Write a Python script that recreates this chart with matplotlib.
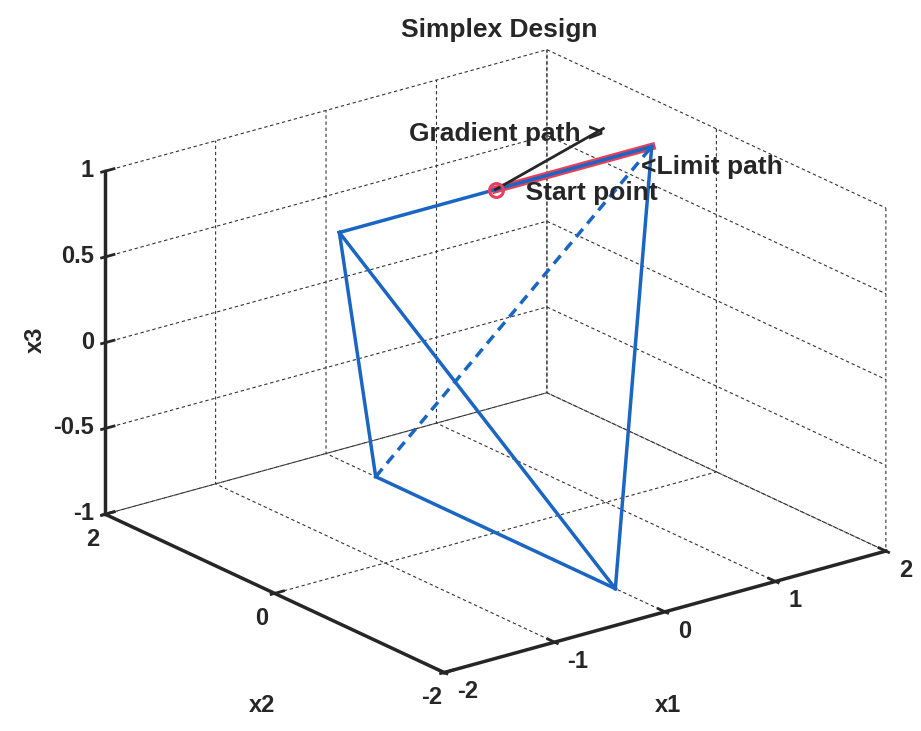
import matplotlib
matplotlib.use("Agg")
import matplotlib.pyplot as plt

plt.rcParams['font.family'] = ['Liberation Sans', 'DejaVu Sans']
plt.rcParams['font.weight'] = 'bold'
plt.rcParams['axes.unicode_minus'] = False
plt.rcParams['grid.color'] = '#333333'
plt.rcParams['grid.linewidth'] = 0.8
plt.rcParams['grid.linestyle'] = (0, (3, 2.5))

# simplex vertices in coded units
vx1 = [-1.414, 1.414, 0.0, 0.0]
vx2 = [0.0, 0.0, 1.414, -1.414]
vx3 = [1.0, 1.0, -1.0, -1.0]
solid_edges = [(0, 1), (0, 2), (0, 3), (2, 3), (3, 1)]
hidden_edges = [(2, 1)]

start_pt = [0.0, 0.0, 1.0]
limit_end = [1.414, 0.0, 1.0]
grad_end = [1.36, 0.5, 1.0]

x1_ticks = [-2, -1, 0, 1, 2]
x2_ticks = [-2, 0, 2]
x3_ticks = [-1, -0.5, 0, 0.5, 1]
x3_labels = ['-1', '-0.5', '0', '0.5', '1']

BLUE = '#1a66c2'
RED = '#e8405a'
INK = '#262626'

fig = plt.figure(figsize=(9.21, 7.31), dpi=100)
ax = fig.add_axes([0.1303, -0.0075, 0.794, 1.0], projection='3d', proj_type='ortho')
ax.view_init(elev=21, azim=-127.5)
ax.set_box_aspect((1, 1, 0.66), zoom=1.154)

ax.set_xlim(-2, 2)
ax.set_ylim(-2, 2)
ax.set_zlim(-1, 1)
ax.set_xticks(x1_ticks)
ax.set_yticks(x2_ticks)
ax.set_zticks(x3_ticks)
ax.set_zticklabels(x3_labels)

for axis in (ax.xaxis, ax.yaxis, ax.zaxis):
    axis.set_pane_color((1, 1, 1, 0))
    axis.pane.set_edgecolor('none')
    axis.line.set_linewidth(2.5)
    axis.line.set_color(INK)
    axis.offsetText.set_visible(False)
    axis.label.set_visible(False)
    axis._axinfo['tick']['inward_factor'] = 0.1
    axis._axinfo['tick']['outward_factor'] = 0.25
    axis._axinfo['tick']['linewidth'][True] = 2.0
    axis._axinfo['tick']['color'] = INK
ax.tick_params(labelsize=17, colors=INK)
ax.tick_params(axis='x', pad=2.5)
ax.tick_params(axis='y', pad=0)
ax.tick_params(axis='z', pad=-4)
for lbl in ax.get_xticklabels():
    lbl.set_ha('left')
    lbl.set_va('center')
for lbl in ax.get_zticklabels():
    lbl.set_ha('right')
    lbl.set_va('center')

# axis titles placed below / beside the box
fig.text(668 / 921, 1 - 705 / 731, 'x1', fontsize=17, color=INK,
         ha='center', va='center')
fig.text(262 / 921, 1 - 705 / 731, 'x2', fontsize=17, color=INK,
         ha='center', va='center')
fig.text(35 / 921, 1 - 340 / 731, 'x3', fontsize=17, color=INK,
         ha='center', va='center', rotation=90)

# limit path sits under the blue edge
ax.plot([start_pt[0], limit_end[0]], [start_pt[1], limit_end[1]],
        [start_pt[2], limit_end[2]], color=RED, lw=5.5)

for i, j in solid_edges:
    ax.plot([vx1[i], vx1[j]], [vx2[i], vx2[j]], [vx3[i], vx3[j]],
            color=BLUE, lw=2.5)
for i, j in hidden_edges:
    ax.plot([vx1[i], vx1[j]], [vx2[i], vx2[j]], [vx3[i], vx3[j]],
            color=BLUE, lw=2.5, ls=(0, (3, 2)))

ax.plot([start_pt[0], grad_end[0]], [start_pt[1], grad_end[1]],
        [start_pt[2], grad_end[2]], color=INK, lw=2)
ax.plot([start_pt[0]], [start_pt[1]], [start_pt[2]], 'o', ms=10,
        mfc='none', mec=RED, mew=2.2)

ax.text(grad_end[0], grad_end[1], grad_end[2] - 0.03, 'Gradient path >',
        ha='right', va='center', fontsize=19, color=INK)
ax.text(limit_end[0] - 0.1, limit_end[1], limit_end[2] - 0.1, '<Limit path',
        ha='left', va='center', fontsize=19, color=INK)
ax.text(start_pt[0], start_pt[1], start_pt[2] - 0.02, '    Start point',
        ha='left', va='center', fontsize=19, color=INK)

fig.suptitle('Simplex Design', x=0.542, y=0.975, fontsize=19,
             fontweight='bold', color=INK)

fig.savefig('out.png', dpi=100)
